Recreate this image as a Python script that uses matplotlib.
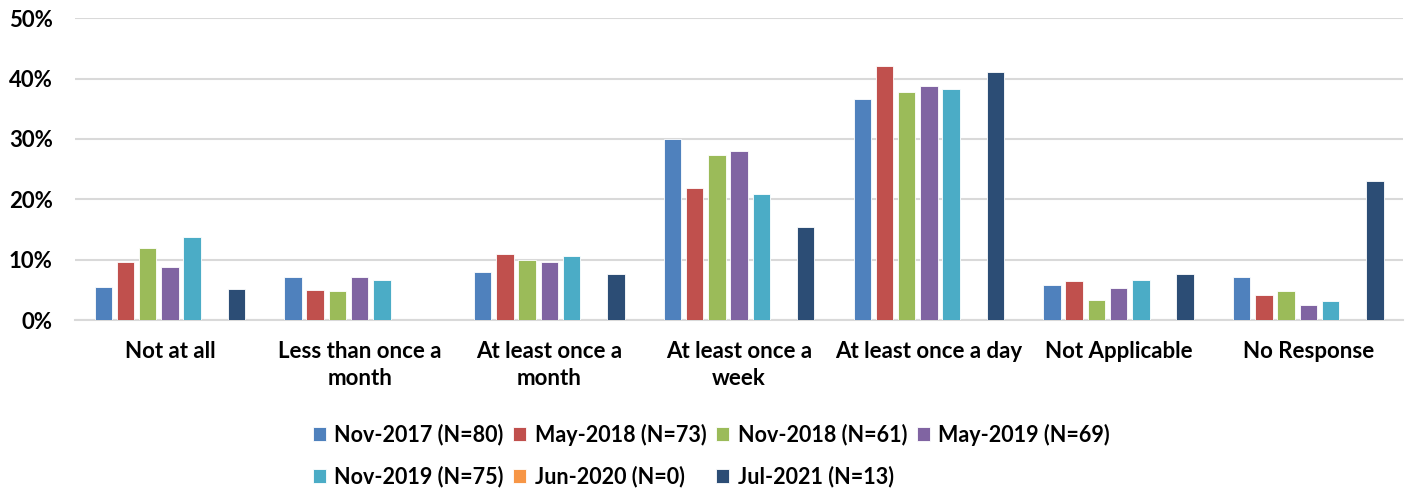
import numpy as np
import matplotlib.pyplot as plt
from matplotlib.ticker import PercentFormatter

# Response categories (x axis)
categories = ["Not at all", "Less than once a\nmonth", "At least once a\nmonth",
              "At least once a\nweek", "At least once a day", "Not Applicable",
              "No Response"]

# Survey waves (legend)
series_names = ["Nov-2017 (N=80)", "May-2018 (N=73)", "Nov-2018 (N=61)",
                "May-2019 (N=69)", "Nov-2019 (N=75)", "Jun-2020 (N=0)",
                "Jul-2021 (N=13)"]

# Percent of respondents
nov_2017 = [5.5, 7.1, 7.9, 30.0, 36.6, 5.9, 7.1]
may_2018 = [9.6, 5.0, 10.9, 21.9, 42.0, 6.4, 4.1]
nov_2018 = [12.0, 4.9, 9.9, 27.3, 37.7, 3.3, 4.9]
may_2019 = [8.8, 7.2, 9.7, 28.0, 38.7, 5.3, 2.5]
nov_2019 = [13.7, 6.7, 10.7, 20.9, 38.2, 6.7, 3.1]
jun_2020 = [0, 0, 0, 0, 0, 0, 0]
jul_2021 = [5.1, 0, 7.7, 15.4, 41.1, 7.7, 23.1]

colors = ["#4F81BD", "#C0504D", "#9BBB59", "#8064A2", "#4BACC6", "#F79646", "#2C4D75"]

plt.rcParams['font.family'] = ['Lato', 'DejaVu Sans']
plt.rcParams['font.weight'] = 'bold'


def main():
    all_series = [nov_2017, may_2018, nov_2018, may_2019, nov_2019, jun_2020, jul_2021]

    fig = plt.figure(figsize=(14.07, 4.91), dpi=100)
    ax = fig.add_axes([0.0533, 0.348, 0.944, 0.615])

    x = np.arange(len(categories))
    pitch = 0.117
    width = 0.092
    handles = []
    for i, (vals, name, col) in enumerate(zip(all_series, series_names, colors)):
        b = ax.bar(x + (i - 3) * pitch, vals, width, color=col, label=name,
                   edgecolor='white', linewidth=0.6, zorder=3)
        handles.append(b)

    ax.set_xlim(-0.5, len(categories) - 0.5)
    ax.set_ylim(0, 50)
    ax.set_yticks(np.arange(0, 51, 10))
    ax.yaxis.set_major_formatter(PercentFormatter(decimals=0))
    ax.set_xticks(x)
    ax.set_xticklabels(categories, fontsize=16, fontweight='bold', linespacing=1.35)
    ax.tick_params(axis='y', labelsize=16, length=0, pad=16)
    ax.tick_params(axis='x', length=0, pad=15)

    ax.grid(axis='y', color='#d9d9d9', linewidth=1.5, zorder=0)
    for s in ['top', 'right', 'left']:
        ax.spines[s].set_visible(False)
    ax.spines['bottom'].set_color('#d9d9d9')
    ax.spines['bottom'].set_linewidth(1.5)

    # legend fills column-wise, so reorder to read row by row
    order = [0, 4, 1, 5, 2, 6, 3]
    ax.legend([handles[k] for k in order], [series_names[k] for k in order],
              ncol=4, loc='center', bbox_to_anchor=(0.479, -0.449),
              frameon=False, fontsize=15.5, handlelength=0.6, handleheight=0.6,
              handletextpad=0.4, columnspacing=0.45, labelspacing=0.95,
              borderaxespad=0, borderpad=0)

    fig.savefig('out.png', dpi=100)


if __name__ == "__main__":
    main()
